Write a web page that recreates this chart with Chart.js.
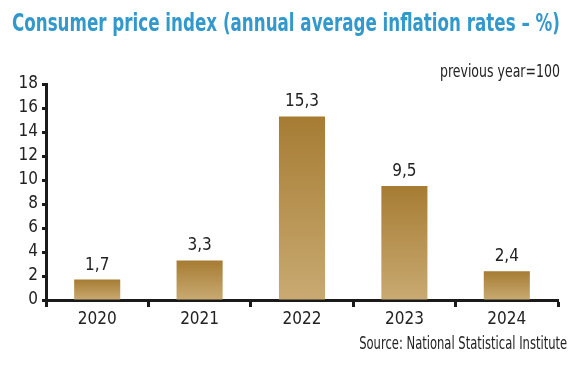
<!DOCTYPE html>
<html>
<head>
<meta charset="utf-8">
<script src="https://cdn.jsdelivr.net/npm/chart.js@4/dist/chart.umd.min.js"></script>
<style>
  body { margin: 0; background: #fff; }
  #wrap { position: relative; width: 587px; height: 374px; overflow: hidden; }
  .txt { position: absolute; white-space: nowrap; font-family: 'DejaVu Sans Condensed', 'Liberation Sans', sans-serif; }
  #title { left: 12px; top: 9px; font-weight: bold; font-size: 24px; color: #3399cc; transform-origin: left top; }
  #note { right: 27px; top: 60px; font-size: 18px; color: #222; transform-origin: right top; }
  #source { right: 20px; top: 332px; font-size: 18px; color: #222; transform-origin: right top; }
  canvas { position: absolute; left: 0; top: 0; }
</style>
</head>
<body>
<div id="wrap">
  <canvas id="cpiChart" width="587" height="374"></canvas>
  <div class="txt" id="title" data-w="548">Consumer price index (annual average inflation rates – %)</div>
  <div class="txt" id="note" data-w="120">previous year=100</div>
  <div class="txt" id="source" data-w="208">Source: National Statistical Institute</div>
</div>
<script>
// datos
const years = ['2020', '2021', '2022', '2023', '2024'];
const inflation = [1.7, 3.3, 15.3, 9.5, 2.4];
const yTicks = [0, 2, 4, 6, 8, 10, 12, 14, 16, 18];

const FONT = "'DejaVu Sans Condensed', 'Liberation Sans', sans-serif";

// estrechar los textos para imitar la fuente condensada
document.querySelectorAll('.txt').forEach(el => {
    const w = el.getBoundingClientRect().width;
    el.style.transform = 'scaleX(' + (parseFloat(el.dataset.w) / w) + ')';
});

function barGradient(context) {
    const chart = context.chart;
    if (!chart.chartArea || context.dataIndex === undefined) return '#b8934f';
    const y = chart.scales.y;
    const top = y.getPixelForValue(context.raw);
    const bottom = y.getPixelForValue(0);
    const g = chart.ctx.createLinearGradient(0, top, 0, bottom);
    g.addColorStop(0, '#a67c33');
    g.addColorStop(1, '#c9aa72');
    return g;
}

// etiquetas encima de las barras
const valueLabels = {
    id: 'valueLabels',
    afterDatasetsDraw(chart) {
        const ctx = chart.ctx;
        const meta = chart.getDatasetMeta(0);
        ctx.save();
        ctx.font = '17px ' + FONT;
        ctx.fillStyle = '#222';
        ctx.textAlign = 'center';
        ctx.textBaseline = 'bottom';
        meta.data.forEach((bar, i) => {
            ctx.fillText(String(inflation[i]).replace('.', ','), bar.x, bar.y - 6);
        });
        ctx.restore();
    }
};

new Chart(document.getElementById('cpiChart'), {
    type: 'bar',
    data: {
        labels: years,
        datasets: [{
            data: inflation,
            backgroundColor: barGradient,
            borderWidth: 0,
            categoryPercentage: 1,
            barPercentage: 0.45
        }]
    },
    options: {
        responsive: false,
        animation: false,
        layout: { padding: { top: 84, right: 29, bottom: 44, left: 0 } },
        plugins: {
            legend: { display: false },
            tooltip: { enabled: false }
        },
        scales: {
            x: {
                afterFit: s => { s.height = 30; },
                border: { display: true, color: '#1a1a1a', width: 3 },
                grid: { display: true, drawOnChartArea: false, drawTicks: true, tickLength: 7, tickWidth: 3, tickColor: '#1a1a1a', offset: true },
                ticks: { color: '#222', font: { family: FONT, size: 17 }, padding: 2 }
            },
            y: {
                min: 0,
                max: 18,
                afterFit: s => { s.width = 46; },
                afterBuildTicks: s => { s.ticks = yTicks.map(v => ({ value: v })); },
                border: { display: true, color: '#1a1a1a', width: 3 },
                grid: { display: true, drawOnChartArea: false, drawTicks: true, tickLength: 4, tickWidth: 3, tickColor: '#1a1a1a' },
                ticks: { color: '#222', font: { family: FONT, size: 17 }, padding: 4 }
            }
        }
    },
    plugins: [valueLabels]
});
</script>
</body>
</html>
